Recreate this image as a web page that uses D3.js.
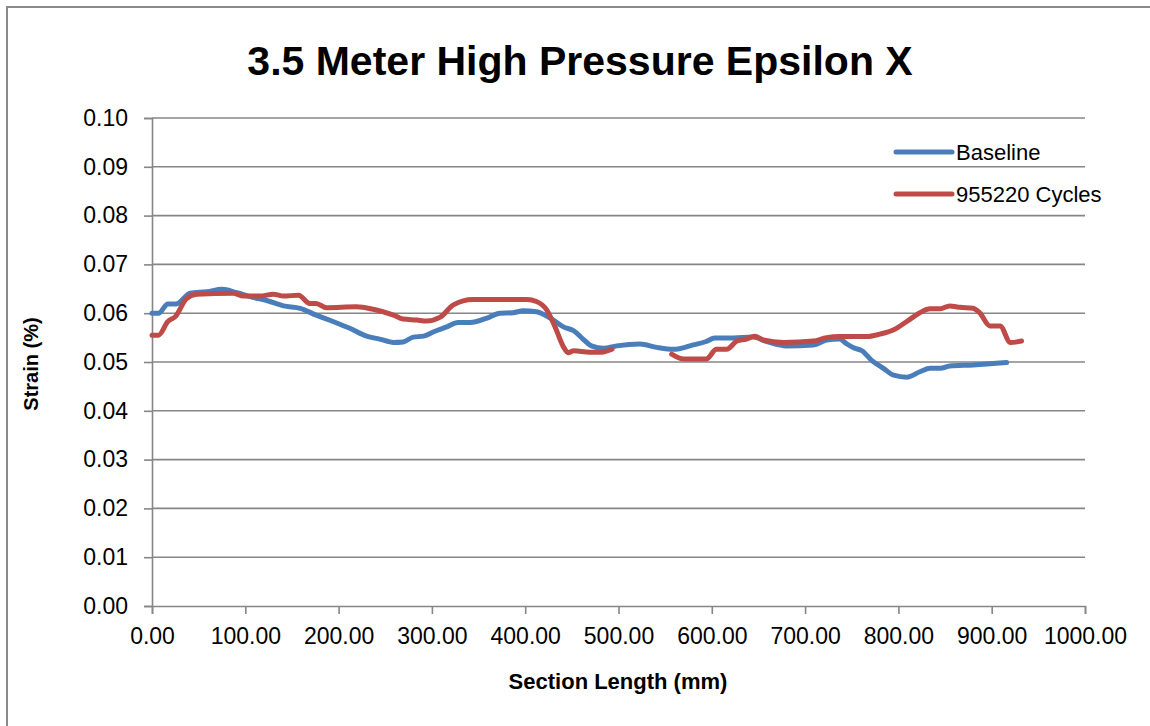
<!DOCTYPE html>
<html>
<head>
<meta charset="utf-8">
<script src="https://cdn.jsdelivr.net/npm/d3@7"></script>
<style>
  html, body { margin: 0; padding: 0; background: #fff; }
  svg { display: block; }
  text { font-family: "Liberation Sans", Arial, sans-serif; fill: #000; }
</style>
</head>
<body>
<svg id="chart" width="1150" height="726"></svg>
<script>
// Strain along the section, measured at baseline and after 955220 cycles
const seriesNames = ["Baseline", "955220 Cycles"];
const seriesColors = ["#4a7ebb", "#be4b48"];

const baselineX = [0, 7, 17, 26, 41, 59, 75, 91, 105, 123, 141, 159, 176, 194, 212, 230, 244, 259, 269, 280, 291, 302, 316, 328,
  341, 359, 373, 387, 398, 412, 427, 441, 452, 462, 471, 484, 498, 523, 541, 559, 580, 594, 603, 623, 644, 659, 680, 709,
  723, 737, 744, 752, 761, 771, 784, 795, 809, 823, 834, 845, 855, 880, 916];
const baselineY = [0.0600, 0.0600, 0.0619, 0.0619, 0.0641, 0.0644, 0.0649, 0.0642, 0.0634, 0.0626, 0.0615, 0.0610, 0.0596, 0.0583, 0.0569, 0.0553, 0.0547, 0.0540, 0.0541, 0.0551, 0.0553, 0.0562, 0.0572, 0.0581,
  0.0581, 0.0590, 0.0600, 0.0601, 0.0605, 0.0603, 0.0590, 0.0572, 0.0564, 0.0547, 0.0533, 0.0528, 0.0533, 0.0537, 0.0530, 0.0526, 0.0535, 0.0542, 0.0549, 0.0549, 0.0551, 0.0542, 0.0533, 0.0535,
  0.0545, 0.0547, 0.0538, 0.0529, 0.0523, 0.0504, 0.0487, 0.0473, 0.0469, 0.0480, 0.0487, 0.0487, 0.0492, 0.0494, 0.0499];

// null marks the gap in the cycled measurement
const cycledX = [0, 7, 17, 25, 37, 48, 87, 98, 116, 130, 141, 157, 169, 176, 187, 219, 237, 259, 269, 284, 294, 309, 323, 344, 402, 412, 423, 432, 441, 446, 452, 469, 482, 493,
  525,
  557, 570, 594, 605, 616, 627, 637, 646, 655, 677, 709, 723, 737, 766, 780, 795, 809, 823, 834, 845, 855, 866, 880, 887, 898, 909, 920, 932];
const cycledY = [0.0555, 0.0555, 0.0583, 0.0593, 0.0630, 0.0639, 0.0641, 0.0635, 0.0635, 0.0639, 0.0635, 0.0637, 0.0620, 0.0620, 0.0611, 0.0613, 0.0608, 0.0596, 0.0588, 0.0586, 0.0584, 0.0592, 0.0617, 0.0628, 0.0628, 0.0624, 0.0607, 0.0572, 0.0531, 0.0519, 0.0523, 0.0520, 0.0520, 0.0526,
  null,
  0.0516, 0.0506, 0.0506, 0.0526, 0.0526, 0.0543, 0.0547, 0.0553, 0.0545, 0.0540, 0.0543, 0.0550, 0.0552, 0.0552, 0.0557, 0.0566, 0.0583, 0.0601, 0.0609, 0.0609, 0.0615, 0.0612, 0.0610, 0.0601, 0.0574, 0.0574, 0.0540, 0.0543];

const xTicks = [0, 100, 200, 300, 400, 500, 600, 700, 800, 900, 1000];
const yTicks = [0, 0.01, 0.02, 0.03, 0.04, 0.05, 0.06, 0.07, 0.08, 0.09, 0.10];

const titleText = "3.5 Meter High Pressure Epsilon X";
const xTitle = "Section Length (mm)";
const yTitle = "Strain (%)";

const svg = d3.select("#chart");
const gridColor = "#868686";
const plot = { left: 152, right: 1085, top: 118, bottom: 606 };

const x = d3.scaleLinear().domain([0, 1000]).range([plot.left, plot.right]);
const y = d3.scaleLinear().domain([0, 0.10]).range([plot.bottom, plot.top]);

// chart frame
svg.append("path")
  .attr("d", "M7,730 L7,7 L1160,7")
  .attr("fill", "none")
  .attr("stroke", "#8a8a8a")
  .attr("stroke-width", 2);

// title
svg.append("text")
  .attr("x", 580).attr("y", 75)
  .attr("text-anchor", "middle")
  .style("font-size", "41px").style("font-weight", "bold")
  .text(titleText);

// horizontal gridlines
svg.append("g").selectAll("line")
  .data(yTicks.slice(1))
  .join("line")
  .attr("x1", plot.left).attr("x2", plot.right)
  .attr("y1", d => y(d)).attr("y2", d => y(d))
  .attr("stroke", gridColor).attr("stroke-width", 1.6);

// y axis
const yAxis = svg.append("g")
  .attr("transform", `translate(${plot.left},0)`)
  .call(d3.axisLeft(y).tickValues(yTicks).tickFormat(d3.format(".2f")).tickSize(8).tickPadding(16));
yAxis.select(".domain").attr("stroke", gridColor).attr("stroke-width", 1.6);
yAxis.selectAll(".tick line").attr("stroke", gridColor).attr("stroke-width", 1.6);
yAxis.selectAll("text").style("font-size", "23px").attr("font-family", null).attr("fill", "#000");

// x axis
const xAxis = svg.append("g")
  .attr("transform", `translate(0,${plot.bottom})`)
  .call(d3.axisBottom(x).tickValues(xTicks).tickFormat(d3.format(".2f")).tickSize(8).tickPadding(14));
xAxis.select(".domain").attr("stroke", gridColor).attr("stroke-width", 1.6);
xAxis.selectAll(".tick line").attr("stroke", gridColor).attr("stroke-width", 1.6);
xAxis.selectAll("text").style("font-size", "23px").attr("font-family", null).attr("fill", "#000");

// axis titles
svg.append("text")
  .attr("x", 618).attr("y", 689)
  .attr("text-anchor", "middle")
  .style("font-size", "22px").style("font-weight", "bold")
  .text(xTitle);

svg.append("text")
  .attr("transform", "translate(38,364) rotate(-90)")
  .attr("text-anchor", "middle")
  .style("font-size", "20px").style("font-weight", "bold")
  .text(yTitle);

// data lines
const line = d3.line()
  .defined(d => d[1] !== null)
  .x(d => x(d[0]))
  .y(d => y(d[1]))
  .curve(d3.curveMonotoneX);

const series = [
  d3.zip(baselineX, baselineY),
  d3.zip(cycledX, cycledY)
];

svg.append("g").selectAll("path")
  .data(series)
  .join("path")
  .attr("d", line)
  .attr("fill", "none")
  .attr("stroke", (d, i) => seriesColors[i])
  .attr("stroke-width", 5)
  .attr("stroke-linejoin", "round")
  .attr("stroke-linecap", "round");

// legend
const legend = svg.append("g").selectAll("g")
  .data(seriesNames)
  .join("g")
  .attr("transform", (d, i) => `translate(896,${152 + i * 42})`);
legend.append("line")
  .attr("x1", 0).attr("x2", 56)
  .attr("stroke", (d, i) => seriesColors[i])
  .attr("stroke-width", 5)
  .attr("stroke-linecap", "round");
legend.append("text")
  .attr("x", 60).attr("dy", "0.35em")
  .style("font-size", "22px")
  .text(d => d);
</script>
</body>
</html>
